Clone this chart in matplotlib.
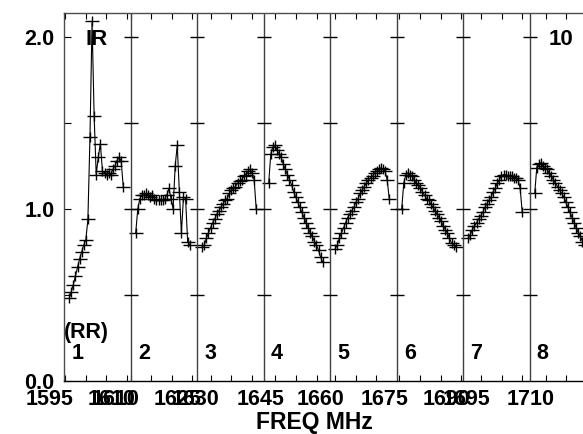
import matplotlib
matplotlib.use("Agg")
import matplotlib.pyplot as plt
from matplotlib.transforms import ScaledTranslation
import numpy as np

# IF layout (MHz) and channel setup
if_start_mhz = [1594.76, 1609.9, 1626.6, 1642.08, 1658.78, 1674.27, 1690.6, 1706.1]
if_bandwidth_mhz = 16.2
n_chan = 32
first_chan = 2

# amplitude per IF, channels 2..
amp_if1 = [0.48, 0.52, 0.56, 0.61, 0.66, 0.71, 0.75, 0.79, 0.82, 0.94, 1.42, 2.09, 1.54, 1.20,
           1.30, 1.38, 1.22, 1.21, 1.20, 1.21, 1.20, 1.23, 1.25, 1.28, 1.30, 1.28, 1.13]
amp_if2 = [0.86, 1.00, 1.06, 1.08, 1.08, 1.09, 1.08, 1.07, 1.08, 1.06, 1.05, 1.05, 1.05, 1.05,
           1.06, 1.08, 1.12, 1.06, 1.00, 1.25, 1.37, 1.10, 0.86, 1.07, 1.06, 0.81, 0.79]
amp_if3 = [0.78, 0.79, 0.83, 0.86, 0.89, 0.92, 0.94, 0.97, 0.99, 1.01, 1.03, 1.05, 1.06, 1.09,
           1.11, 1.12, 1.13, 1.15, 1.16, 1.17, 1.19, 1.20, 1.22, 1.23, 1.21, 1.17, 1.00]
amp_if4 = [1.15, 1.32, 1.36, 1.37, 1.34, 1.32, 1.30, 1.26, 1.23, 1.20, 1.17, 1.14, 1.10, 1.07,
           1.04, 1.01, 0.98, 0.95, 0.92, 0.89, 0.86, 0.84, 0.81, 0.79, 0.76, 0.72, 0.69]
amp_if5 = [0.77, 0.79, 0.83, 0.86, 0.89, 0.92, 0.95, 0.97, 0.99, 1.01, 1.04, 1.06, 1.09, 1.11,
           1.13, 1.15, 1.17, 1.18, 1.19, 1.21, 1.22, 1.23, 1.24, 1.23, 1.22, 1.17, 1.06]
amp_if6 = [1.00, 1.15, 1.20, 1.21, 1.20, 1.19, 1.17, 1.15, 1.14, 1.12, 1.10, 1.08, 1.06, 1.05,
           1.03, 1.01, 0.99, 0.97, 0.95, 0.93, 0.90, 0.88, 0.86, 0.83, 0.80, 0.79, 0.78]
amp_if7 = [0.83, 0.85, 0.88, 0.90, 0.92, 0.94, 0.96, 0.98, 1.01, 1.03, 1.05, 1.07, 1.10, 1.12,
           1.15, 1.17, 1.19, 1.20, 1.20, 1.19, 1.19, 1.19, 1.18, 1.18, 1.17, 1.12, 0.98]
amp_if8 = [1.09, 1.24, 1.26, 1.27, 1.25, 1.24, 1.23, 1.21, 1.19, 1.17, 1.15, 1.13, 1.11, 1.09,
           1.07, 1.04, 1.01, 0.98, 0.95, 0.92, 0.89, 0.86, 0.84, 0.81, 0.79]
amps = [amp_if1, amp_if2, amp_if3, amp_if4, amp_if5, amp_if6, amp_if7, amp_if8]

y_ticks = [0.0, 0.5, 1.0, 1.5, 2.0]
y_ticklabels = ["0.0", "", "1.0", "", "2.0"]
panel_labels = ["1", "2", "3", "4", "5", "6", "7", "8"]

plt.rcParams['font.family'] = ['Liberation Sans', 'DejaVu Sans']
plt.rcParams['font.weight'] = 'bold'

fig = plt.figure(figsize=(5.83, 4.34), dpi=100)
# the plot runs past the right edge of the image (last IF is cut off)
ax = fig.add_axes([64 / 583, 53 / 434, 532 / 583, 368.5 / 434])
ax.set_xlim(0, 8)
ax.set_ylim(0, 2.142)

n_if = len(if_start_mhz)


def freq_to_u(i, f):
    return i + (f - if_start_mhz[i]) / if_bandwidth_mhz


# data
for i, vals in enumerate(amps):
    ch = np.arange(first_chan, first_chan + len(vals))
    u = i + (ch + 0.5) / n_chan
    ax.plot(u, vals, color='black', lw=0.8)
    ax.plot(u, vals, ls='none', marker='_', ms=9.5, mew=1.0, color='black')
    ax.plot(u, vals, ls='none', marker='|', ms=7, mew=1.0, color='black')

# IF separators with tick crosses
for b in range(1, n_if + 1):
    ax.axvline(b, color='0.25', lw=1.0)
    ax.plot([b] * 4, y_ticks[1:], ls='none', marker='_', ms=10.5, mew=1.0, color='black')

# frequency ticks: every 5 MHz, label every third starting from the first in each IF
xt, xl = [], []
for i in range(n_if):
    f = np.ceil(if_start_mhz[i] / 5.0) * 5.0
    k = 0
    while f <= if_start_mhz[i] + if_bandwidth_mhz:
        xt.append(freq_to_u(i, f))
        xl.append("%d" % f if k % 3 == 0 else "")
        f += 5.0
        k += 1
ax.set_xticks(xt, xl)
ax.set_yticks(y_ticks, y_ticklabels)
ax.tick_params(axis='x', direction='in', length=4.5, width=0.8, top=True, pad=5.5,
               labelsize=15.5)
ax.tick_params(axis='y', direction='in', length=5, width=0.8, pad=7, labelsize=15.5)
shift = ScaledTranslation(-0.15, 0, fig.dpi_scale_trans)
for lab in ax.get_xticklabels():
    lab.set_transform(lab.get_transform() + shift)
    lab.set_fontweight('bold')
for lab in ax.get_yticklabels():
    lab.set_fontweight('bold')

for side in ['left', 'top', 'bottom']:
    ax.spines[side].set_linewidth(1.0)
    ax.spines[side].set_color('0.3')
ax.spines['bottom'].set_color('black')

# annotations
for i, lab in enumerate(panel_labels):
    ax.text(i + 0.11, 0.128, lab, fontsize=15.5, fontweight='bold', ha='left', va='baseline')
ax.text(0.005, 0.25, "(RR)", fontsize=15.5, fontweight='bold', ha='left', va='baseline')
ax.text(0.33, 1.953, "IR", fontsize=16, fontweight='bold', ha='left', va='baseline')
ax.text(7.29, 1.953, "10", fontsize=16, fontweight='bold', ha='left', va='baseline')

fig.text(314 / 583, 1 - 423 / 434, "FREQ MHz", fontsize=16.5, fontweight='bold',
         ha='center', va='center')

fig.savefig("out.png", dpi=100)
